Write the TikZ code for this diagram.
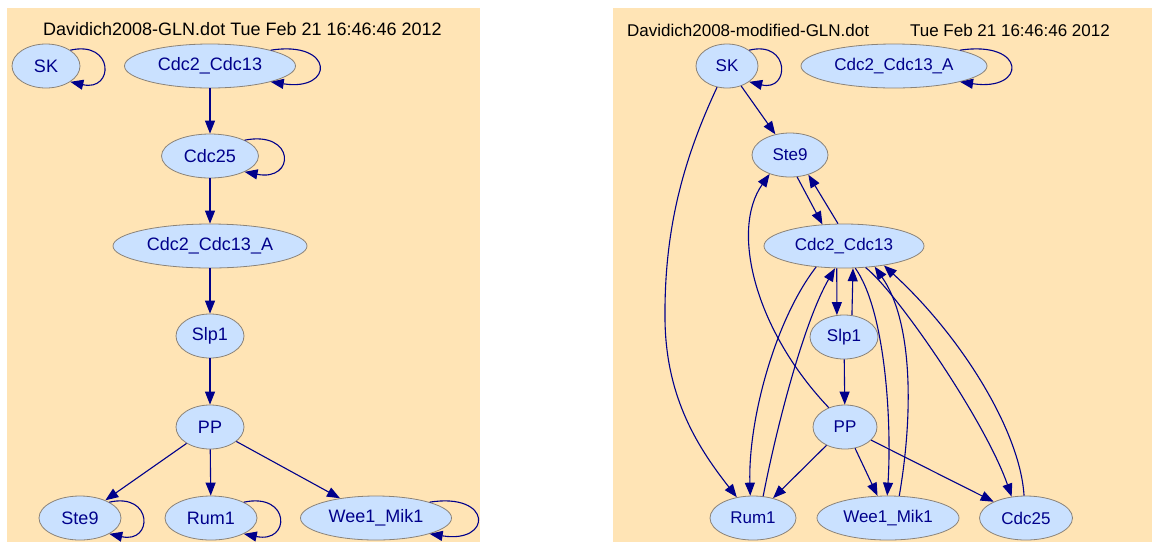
\documentclass[tikz,border=0pt]{standalone}
\usepackage{fontspec}
\setmainfont{Liberation Sans}
\usetikzlibrary{shapes.geometric, arrows.meta}

\definecolor{panelbg}{HTML}{FFE4B5}
\definecolor{genefill}{HTML}{CAE1FF}
\definecolor{geneline}{HTML}{8B8378}
\definecolor{arcblue}{HTML}{00008B}

\tikzset{
  gene/.style={ellipse, draw=geneline, fill=genefill, line width=0.8pt,
    text=arcblue, inner xsep=2pt, inner ysep=2pt, minimum height=44pt},
  arc/.style={draw=arcblue, line width=1.1pt, -{Triangle[length=13pt,width=10pt]}},
  title/.style={text=black, inner sep=0pt}
}

\begin{document}
\begin{tikzpicture}[x=1pt,y=-1pt]
    \useasboundingbox (0,0) rectangle (1154,542);

    % the two panels
    \fill[panelbg] (7,8) rectangle (480,542);
    \fill[panelbg] (613,8) rectangle (1152,542);

    % left: original network
    \begin{scope}[font=\fontsize{18}{22}\selectfont]
        \node[title] (fileL) at (242.5,29) {Davidich2008-GLN.dot Tue Feb 21 16:46:46 2012};

        \node[gene, minimum width=68pt] (skL) at (46,66) {SK};
        \node[gene, minimum width=171pt] (cdcL) at (210,66) {Cdc2\_Cdc13};
        \node[gene, minimum width=97pt] (cdc25L) at (210,156) {Cdc25};
        \node[gene, minimum width=194pt] (cdcaL) at (210,246) {Cdc2\_Cdc13\_A};
        \node[gene, minimum width=68pt] (slpL) at (210,336) {Slp1};
        \node[gene, minimum width=68pt] (ppL) at (210,427) {PP};
        \node[gene, minimum width=82pt] (steL) at (80,518) {Ste9};
        \node[gene, minimum width=92pt] (rumL) at (211,518) {Rum1};
        \node[gene, minimum width=151pt] (weeL) at (376,518) {Wee1\_Mik1};

        % self loops
        \draw[arc] (skL.north east) .. controls +(44,-10) and +(44,10) .. (skL.south east);
        \draw[arc] (cdcL.north east) .. controls +(64,-10) and +(64,10) .. (cdcL.south east);
        \draw[arc] (cdc25L.north east) .. controls +(51,-10) and +(51,10) .. (cdc25L.south east);
        \draw[arc] (steL.north east) .. controls +(44,-10) and +(44,10) .. (steL.south east);
        \draw[arc] (rumL.north east) .. controls +(47,-10) and +(47,10) .. (rumL.south east);
        \draw[arc] (weeL.north east) .. controls +(63,-10) and +(63,10) .. (weeL.south east);

        % chain down
        \draw[arc] (cdcL) -- (cdc25L);
        \draw[arc] (cdc25L) -- (cdcaL);
        \draw[arc] (cdcaL) -- (slpL);
        \draw[arc] (slpL) -- (ppL);
        \draw[arc] (ppL) -- (steL);
        \draw[arc] (ppL) -- (rumL);
        \draw[arc] (ppL) -- (weeL);
    \end{scope}

    % right: modified network
    \begin{scope}[font=\fontsize{17}{21}\selectfont]
        \node[title, anchor=west] (fileR) at (627,30) {Davidich2008-modified-GLN.dot};
        \node[title, anchor=east] (dateR) at (1110,30) {Tue Feb 21 16:46:46 2012};

        \node[gene, minimum width=62pt] (skR) at (727,66) {SK};
        \node[gene, minimum width=186pt] (cdcaR) at (894,66) {Cdc2\_Cdc13\_A};
        \node[gene, minimum width=76pt] (steR) at (790,155) {Ste9};
        \node[gene, minimum width=160pt] (cdcR) at (844,246) {Cdc2\_Cdc13};
        \node[gene, minimum width=68pt] (slpR) at (844,337) {Slp1};
        \node[gene, minimum width=64pt] (ppR) at (845,427) {PP};
        \node[gene, minimum width=86pt] (rumR) at (753,518) {Rum1};
        \node[gene, minimum width=142pt] (weeR) at (888,518) {Wee1\_Mik1};
        \node[gene, minimum width=93pt] (cdc25R) at (1026,518) {Cdc25};

        % self loops
        \draw[arc] (skR.north east) .. controls +(41,-10) and +(41,10) .. (skR.south east);
        \draw[arc] (cdcaR.north east) .. controls +(67,-10) and +(67,10) .. (cdcaR.south east);

        % SK
        \draw[arc] (skR) -- (steR);
        \draw[arc] (skR) .. controls (683,160) and (664,230) .. (665,320)
            .. controls (666,400) and (700,450) .. (rumR);

        % Ste9 and Slp1 pairs
        \draw[arc] (steR.-72) -- (cdcR.135);
        \draw[arc] (cdcR.105) -- (steR.-47);
        \draw[arc] (cdcR.-108) -- (slpR.108);
        \draw[arc] (slpR.70) -- (cdcR.-68);
        \draw[arc] (slpR) -- (ppR);

        % PP
        \draw[arc] (ppR.130) .. controls (755,330) and (730,230) .. (steR.223);
        \draw[arc] (ppR) -- (rumR);
        \draw[arc] (ppR) -- (weeR);
        \draw[arc] (ppR) -- (cdc25R);

        % Cdc2_Cdc13 to and from the bottom row
        \draw[arc] (cdcR.-143) .. controls (775,320) and (748,420) .. (rumR.97);
        \draw[arc] (rumR.65) .. controls (778,420) and (805,320) .. (cdcR.-112);
        \draw[arc] (cdcR.-63) .. controls (885,310) and (892,420) .. (weeR.92);
        \draw[arc] (weeR.63) .. controls (914,410) and (912,320) .. (cdcR.-34);
        \draw[arc] (cdcR.-45) .. controls (895,290) and (985,420) .. (cdc25R.124);
        \draw[arc] (cdc25R.95) .. controls (1020,430) and (960,335) .. (cdcR.-26);
    \end{scope}

\end{tikzpicture}
\end{document}
